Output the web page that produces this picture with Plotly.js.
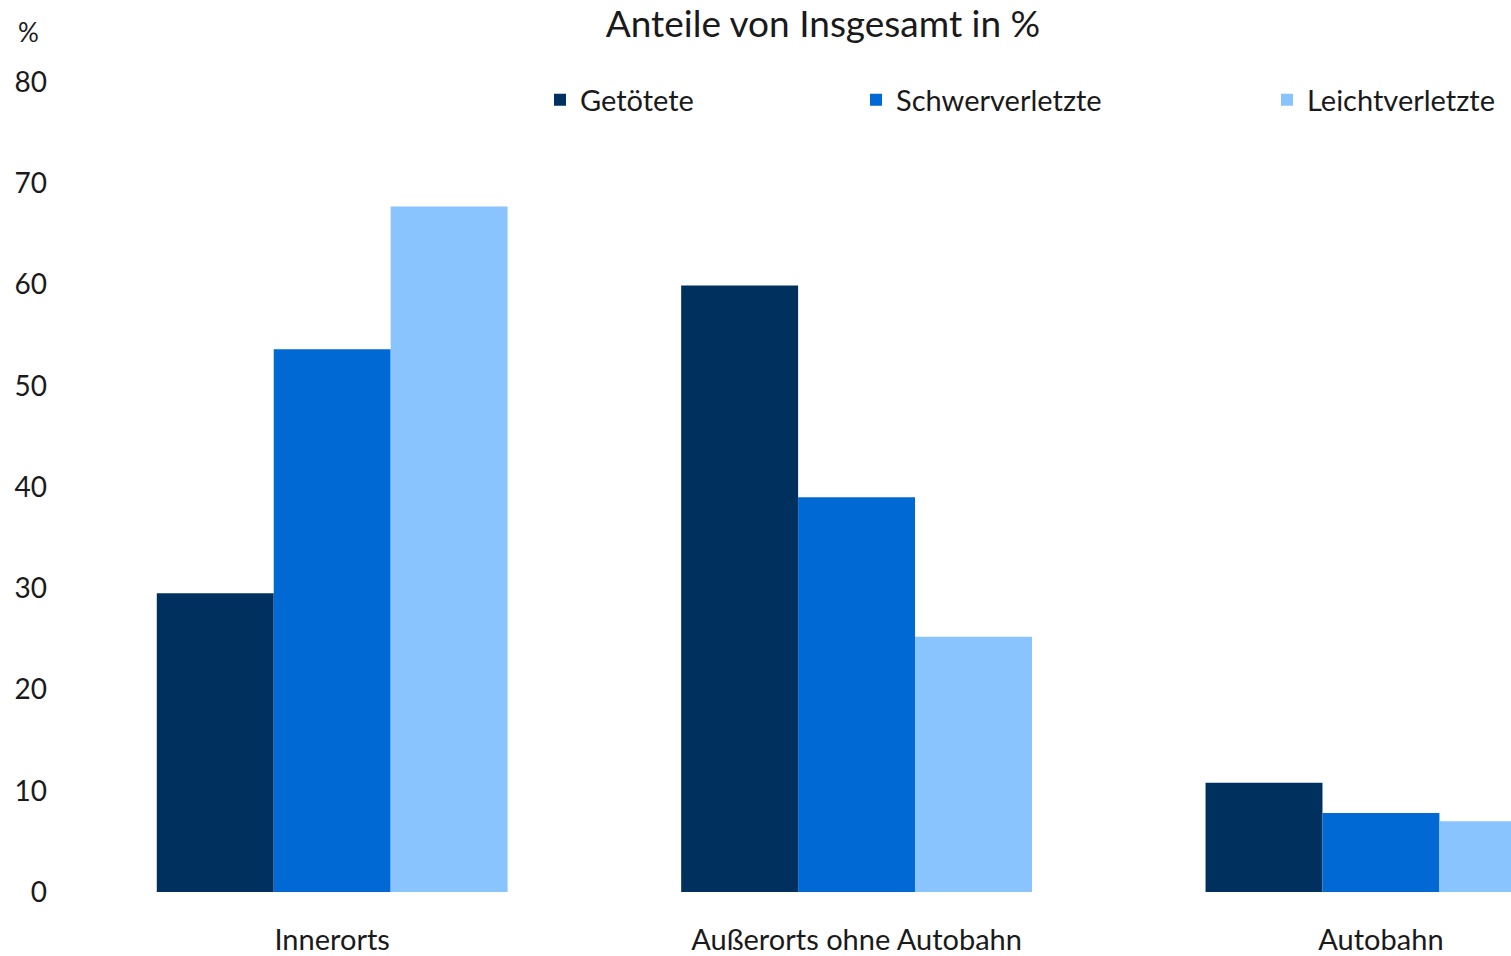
<!DOCTYPE html>
<html>
<head>
<meta charset="utf-8">
<script src="https://cdn.plot.ly/plotly-3.0.1.min.js"></script>
<style>html,body{margin:0;padding:0;background:#fff;}#chart{width:1511px;height:956px;}</style>
</head>
<body>
<div id="chart"></div>
<script>
const categories = ["Innerorts", "Außerorts ohne Autobahn", "Autobahn"];
const seriesNames = ["Getötete", "Schwerverletzte", "Leichtverletzte"];
const getoetete = [29.5, 59.9, 10.8];
const schwerverletzte = [53.6, 39.0, 7.8];
const leichtverletzte = [67.7, 25.2, 7.0];
const yTicks = [0, 10, 20, 30, 40, 50, 60, 70, 80];
const colors = ["#00305e", "#0069d4", "#89c4ff"];

const FONT = "Lato, 'Open Sans', sans-serif";
const values = [getoetete, schwerverletzte, leichtverletzte];
const legendIds = ["legend", "legend2", "legend3"];
const traces = values.map((v, i) => ({
  type: "bar",
  name: seriesNames[i],
  x: categories,
  y: v,
  marker: {color: colors[i], line: {width: 0}},
  legend: legendIds[i],
  hoverinfo: "x+y+name"
}));

// plot area: x 70..1511, y 82..892
const W = 1441, H = 810, L = 70, B = 892;
const px = (x) => (x - L) / W;
const py = (y) => (B - y) / H;

const legendBase = {
  orientation: "h", xref: "paper", yref: "paper",
  yanchor: "middle", xanchor: "left", y: py(100),
  font: {family: FONT, size: 29, color: "#1a1a1a"},
  bgcolor: "rgba(0,0,0,0)", itemclick: false, itemdoubleclick: false
};

const layout = {
  width: 1511, height: 956,
  margin: {l: 70, r: 0, t: 82, b: 64, pad: 0, autoexpand: false},
  paper_bgcolor: "#fff", plot_bgcolor: "#fff",
  font: {family: FONT, size: 28, color: "#1a1a1a"},
  barmode: "group",
  bargap: 0.331,
  bargroupgap: 0,
  showlegend: true,
  legend: Object.assign({}, legendBase, {x: px(540)}),
  legend2: Object.assign({}, legendBase, {x: px(856)}),
  legend3: Object.assign({}, legendBase, {x: px(1267)}),
  title: {
    text: "Anteile von Insgesamt in %",
    font: {family: FONT, size: 37, color: "#1a1a1a"},
    xref: "container", yref: "container",
    x: 823/1511, xanchor: "center", y: 1 - 24/956, yanchor: "middle"
  },
  xaxis: {
    type: "category",
    range: [-0.5, 2.248],
    showgrid: false, zeroline: false, showline: false,
    ticks: "", ticklabelstandoff: 28,
    tickfont: {family: FONT, size: 29, color: "#1a1a1a"},
    fixedrange: true
  },
  yaxis: {
    range: [0, 80],
    tickvals: yTicks,
    showgrid: false, zeroline: false, showline: false,
    ticks: "", ticklabelstandoff: 22,
    tickfont: {family: FONT, size: 28, color: "#1a1a1a"},
    fixedrange: true
  },
  annotations: [{
    text: "%", xref: "paper", yref: "paper",
    x: px(28), y: py(32), xanchor: "center", yanchor: "middle",
    showarrow: false, font: {family: FONT, size: 26, color: "#1a1a1a"}
  }]
};

Plotly.newPlot("chart", traces, layout, {displayModeBar: false});
</script>
</body>
</html>
